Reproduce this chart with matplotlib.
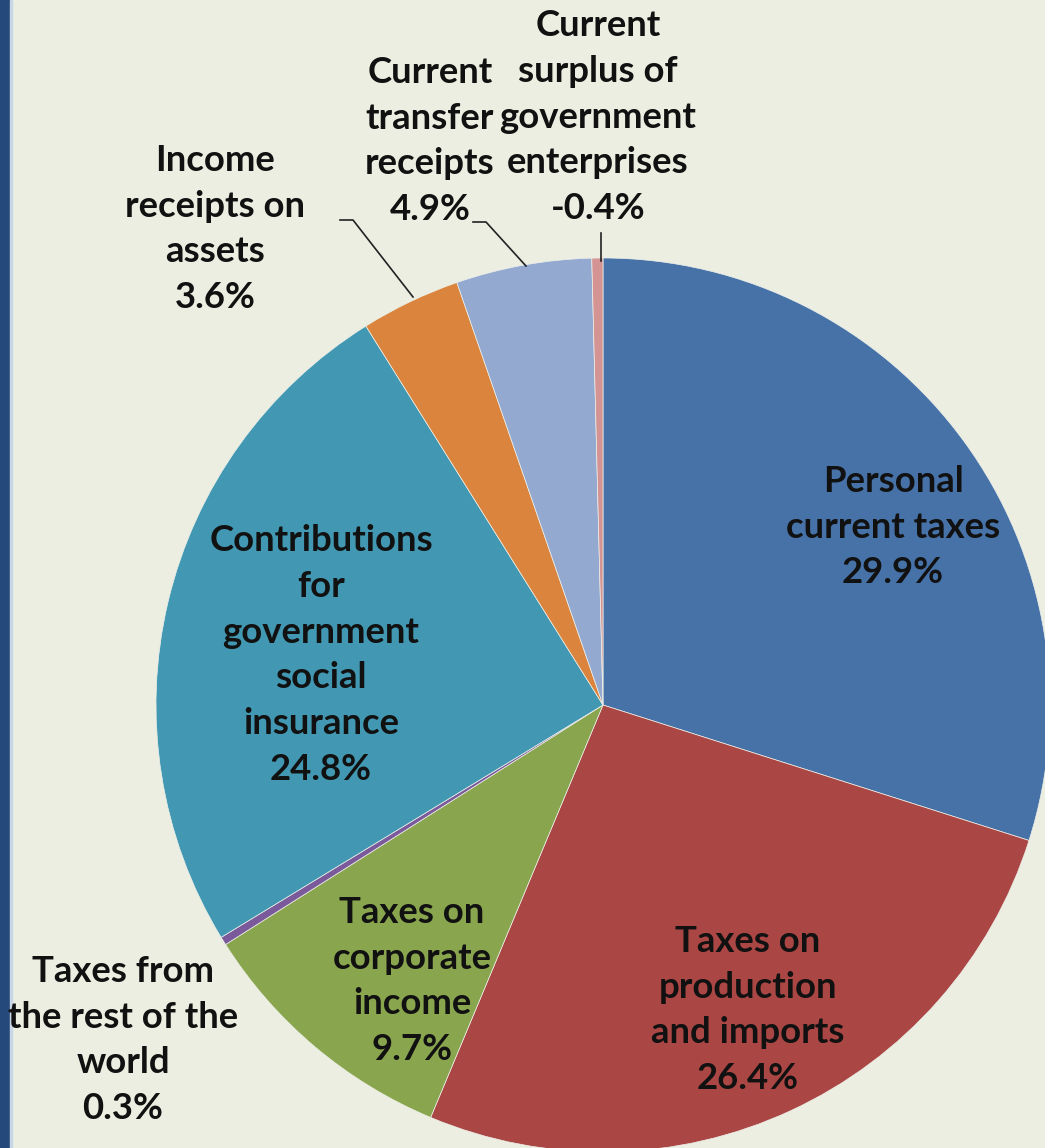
import matplotlib
matplotlib.use("Agg")
import matplotlib.pyplot as plt
from matplotlib.patches import Rectangle
import numpy as np

# Shares of government current receipts (percent), clockwise from 12 o'clock
categories = [
    "Personal\ncurrent taxes",
    "Taxes on\nproduction\nand imports",
    "Taxes on\ncorporate\nincome",
    "Taxes from\nthe rest of the\nworld",
    "Contributions\nfor\ngovernment\nsocial\ninsurance",
    "Income\nreceipts on\nassets",
    "Current\ntransfer\nreceipts",
    "Current\nsurplus of\ngovernment\nenterprises",
]
shares = [29.9, 26.4, 9.7, 0.3, 24.8, 3.6, 4.9, -0.4]
colors = ["#4672A8", "#AA4744", "#89A54E", "#7A5A9A", "#4298B2",
          "#DB843D", "#93A9D0", "#D49494"]

W, H = 1045, 1148
fig = plt.figure(figsize=(W / 100, H / 100), dpi=100)
bg = "#EBEEE0"
fig.patch.set_facecolor(bg)
ax = fig.add_axes([0, 0, 1, 1])
ax.set_facecolor(bg)

# Dark side band on the left edge
ax.add_patch(Rectangle((0, 0), 10, H, color="#24497A", zorder=5))
ax.add_patch(Rectangle((10, 0), 2, H, color="#C9D6E6", zorder=5))

cx, cy, r = 603, H - 705, 447
wedges, _ = ax.pie(np.abs(shares), colors=colors, startangle=90,
                   counterclock=False, center=(cx, cy), radius=r,
                   wedgeprops=dict(linewidth=0.5, edgecolor="#EEF0EA"),
                   frame=True)
ax.set_xlim(0, W)
ax.set_ylim(0, H)
ax.set_aspect("equal")
ax.axis("off")

font = dict(family=["Lato", "DejaVu Sans"], fontweight="bold",
            fontsize=26.3, color="#111111", ha="center", va="center",
            linespacing=1.48)

# Label anchor points (pixel space, y measured from top)
label_pos = [(893, 527), (748, 1010), (412, 981), (123, 1040),
             (321, 655), (215, 229), (430, 141), (598, 117)]

for name, val, (px, py) in zip(categories, shares, label_pos):
    ax.text(px, H - py, f"{name}\n{val:.1f}%", zorder=6, **font)

# Leader lines for the small slices
leaders = [
    [(340, 220), (353, 220), (413, 297)],
    [(473, 222), (486, 222), (526, 266)],
    [(601, 233), (601, 261)],
]
for pts in leaders:
    xs = [p[0] for p in pts]
    ys = [H - p[1] for p in pts]
    ax.plot(xs, ys, color="#222222", lw=1.2, zorder=6)

fig.savefig("out.png", dpi=100, facecolor=bg)
